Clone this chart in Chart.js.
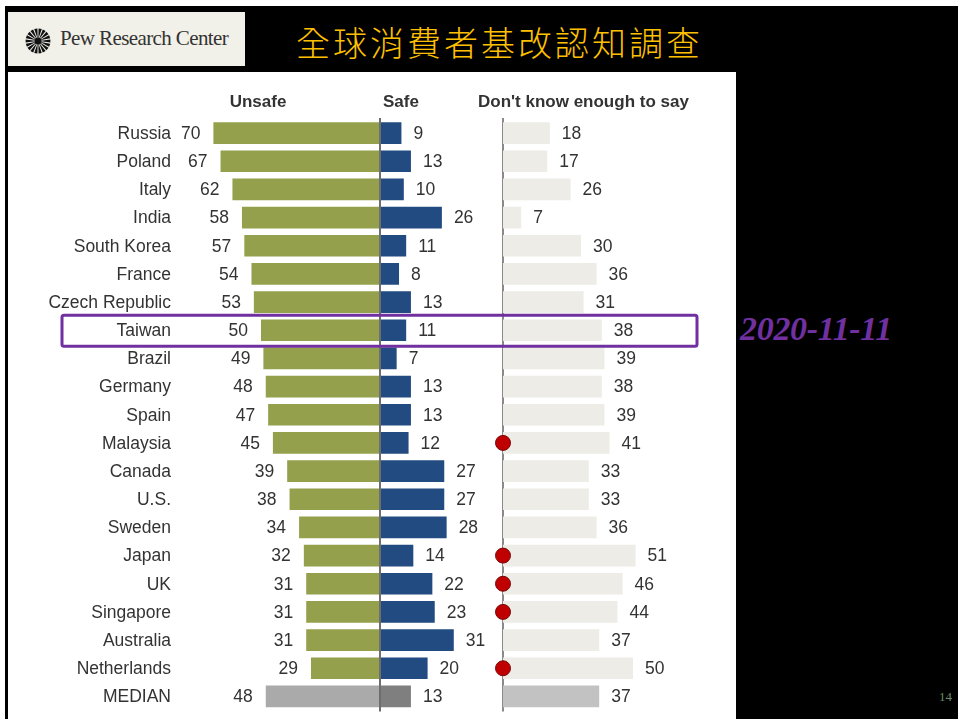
<!DOCTYPE html>
<html>
<head>
<meta charset="utf-8">
<title>全球消費者基改認知調查</title>
<script src="https://cdn.jsdelivr.net/npm/chart.js@4.4.0/dist/chart.umd.min.js"></script>
<style>
  html, body { margin: 0; padding: 0; background: #fff; width: 960px; height: 719px; overflow: hidden; }
  #slide { position: absolute; left: 5px; top: 6px; width: 953px; height: 713px; background: #000; }
  #logo { position: absolute; left: 8px; top: 12px; width: 237px; height: 54px; background: #f1f0e9; }
  #logo span { position: absolute; left: 52px; top: 14px; font: 21px "Liberation Serif", serif; color: #333; letter-spacing: -0.6px; white-space: nowrap; }
  #logo svg { position: absolute; left: 17px; top: 16px; }
  #title { position: absolute; left: 296px; top: 17px; font: 300 34px "Noto Sans CJK TC", sans-serif; color: #ffc000; letter-spacing: 3px; white-space: nowrap; }
  #panel { position: absolute; left: 8px; top: 72px; width: 728px; height: 647px; background: #fff; }
  #date { position: absolute; left: 740px; top: 310px; font: italic bold 34px "Liberation Serif", serif; color: #7030a0; white-space: nowrap; letter-spacing: -0.3px; }
  #page { position: absolute; left: 939px; top: 689px; font: 13px "Liberation Serif", serif; color: #6b8a6b; }
  #chart { position: absolute; left: 0; top: 0; }
</style>
</head>
<body>
<div id="slide"></div>
<div id="logo">
  <svg id="burst" width="26" height="26" viewBox="-13 -13 26 26"></svg>
  <span>Pew Research Center</span>
</div>
<div id="title">全球消費者基改認知調查</div>
<div id="panel"></div>
<div id="date">2020-11-11</div>
<div id="page">14</div>
<canvas id="chart" width="960" height="719"></canvas>
<script>
// survey results, % of respondents per country
const countries = ['Russia', 'Poland', 'Italy', 'India', 'South Korea', 'France', 'Czech Republic',
  'Taiwan', 'Brazil', 'Germany', 'Spain', 'Malaysia', 'Canada', 'U.S.', 'Sweden', 'Japan', 'UK',
  'Singapore', 'Australia', 'Netherlands', 'MEDIAN'];
const unsafe   = [70, 67, 62, 58, 57, 54, 53, 50, 49, 48, 47, 45, 39, 38, 34, 32, 31, 31, 31, 29, 48];
const safe     = [9, 13, 10, 26, 11, 8, 13, 11, 7, 13, 13, 12, 27, 27, 28, 14, 22, 23, 31, 20, 13];
const dontKnow = [18, 17, 26, 7, 30, 36, 31, 38, 39, 38, 39, 41, 33, 33, 36, 51, 46, 44, 37, 50, 37];
const flagged  = ['Malaysia', 'Japan', 'UK', 'Singapore', 'Netherlands'];
const highlight = 'Taiwan';

// logo starburst
(function () {
  const svg = document.getElementById('burst');
  let s = '';
  const n = 18;
  for (let i = 0; i < n; i++) {
    const a = i / n * Math.PI * 2, w = 0.13;
    const p = (r, t) => (r * Math.cos(t)).toFixed(2) + ',' + (r * Math.sin(t)).toFixed(2);
    s += '<polygon points="' + p(3, a - 0.05) + ' ' + p(12.5, a - w) + ' ' + p(12.5, a + w) + ' ' + p(3, a + 0.05) + '" fill="#111"/>';
  }
  s += '<circle r="3.6" fill="#111"/>';
  svg.innerHTML = s;
})();

// layout of the plot area (page pixels)
const area = { left: 180, right: 730, top: 119, bottom: 711 };
const mid = 380, midScale = 2.38;   // unsafe / safe axis
const dkZero = 503, dkScale = 2.6;  // don't know axis

const isMedian = countries.map(c => c === 'MEDIAN');
const font = '"Liberation Sans", Arial, sans-serif';

const labelsPlugin = {
  id: 'labels',
  beforeDatasetsDraw(chart) {
    const { ctx, chartArea, scales } = chart;
    const x0 = scales.x2.getPixelForValue(0);
    ctx.save();
    ctx.strokeStyle = '#8a8a8a';
    ctx.lineWidth = 2;
    ctx.beginPath();
    ctx.moveTo(x0, chartArea.top - 1);
    ctx.lineTo(x0, chartArea.bottom + 1);
    ctx.stroke();
    ctx.restore();
  },
  afterDatasetsDraw(chart) {
    const { ctx, chartArea, scales } = chart;
    const xc = scales.x.getPixelForValue(0);
    ctx.save();
    ctx.strokeStyle = '#6e6e6e';
    ctx.lineWidth = 2;
    ctx.beginPath();
    ctx.moveTo(xc, chartArea.top - 1);
    ctx.lineTo(xc, chartArea.bottom + 1);
    ctx.stroke();
    ctx.restore();
  },
  afterDraw(chart) {
    const { ctx, scales } = chart;
    const { x, x2, y } = scales;
    ctx.save();
    ctx.fillStyle = '#333';
    ctx.textBaseline = 'middle';

    // column headers
    ctx.font = 'bold 17px ' + font;
    ctx.textAlign = 'center';
    ctx.fillText('Unsafe', 258, 102);
    ctx.textAlign = 'left';
    ctx.fillText('Safe', 383, 102);
    ctx.fillText("Don't know enough to say", 478, 102);

    ctx.font = '17.5px ' + font;
    countries.forEach((c, i) => {
      const py = y.getPixelForValue(i) + 1;
      ctx.textAlign = 'right';
      ctx.fillText(c, 171, py);
      ctx.fillText(String(unsafe[i]), x.getPixelForValue(-unsafe[i]) - 13, py);
      ctx.textAlign = 'left';
      ctx.fillText(String(safe[i]), x.getPixelForValue(safe[i]) + 12, py);
      ctx.fillText(String(dontKnow[i]), x2.getPixelForValue(dontKnow[i]) + 12, py);
    });

    // highlighted row frame
    const hy = y.getPixelForValue(countries.indexOf(highlight));
    ctx.strokeStyle = '#7030a0';
    ctx.lineWidth = 3;
    ctx.beginPath();
    ctx.roundRect(62, hy - 15, 635, 31, 2);
    ctx.stroke();
    ctx.restore();
  }
};

new Chart(document.getElementById('chart'), {
  type: 'bar',
  data: {
    labels: countries,
    datasets: [
      {
        type: 'scatter',
        label: 'flag',
        data: flagged.map(c => ({ x: 0, y: c })),
        xAxisID: 'x2',
        order: -1,
        pointRadius: 7.5,
        pointBackgroundColor: '#c00000',
        pointBorderColor: '#7a0a0a',
        pointBorderWidth: 1
      },
      {
        label: 'Unsafe',
        data: unsafe.map(v => -v),
        xAxisID: 'x',
        backgroundColor: isMedian.map(m => m ? '#aaaaaa' : '#94a04b')
      },
      {
        label: 'Safe',
        data: safe,
        xAxisID: 'x',
        backgroundColor: isMedian.map(m => m ? '#7f7f7f' : '#224b81')
      },
      {
        label: "Don't know enough to say",
        data: dontKnow,
        xAxisID: 'x2',
        backgroundColor: isMedian.map(m => m ? '#c2c2c2' : '#edece6')
      }
    ]
  },
  options: {
    indexAxis: 'y',
    responsive: false,
    animation: false,
    datasets: {
      bar: { grouped: false, barPercentage: 0.77, categoryPercentage: 1 }
    },
    layout: {
      padding: { left: area.left, right: 960 - area.right, top: area.top, bottom: 719 - area.bottom }
    },
    scales: {
      y: { type: 'category', display: false, offset: true },
      x: {
        type: 'linear', display: false,
        min: -(mid - area.left) / midScale,
        max: (area.right - mid) / midScale
      },
      x2: {
        type: 'linear', display: false,
        min: -(dkZero - area.left) / dkScale,
        max: (area.right - dkZero) / dkScale
      }
    },
    plugins: {
      legend: { display: false },
      tooltip: { enabled: false }
    }
  },
  plugins: [labelsPlugin]
});
</script>
</body>
</html>
